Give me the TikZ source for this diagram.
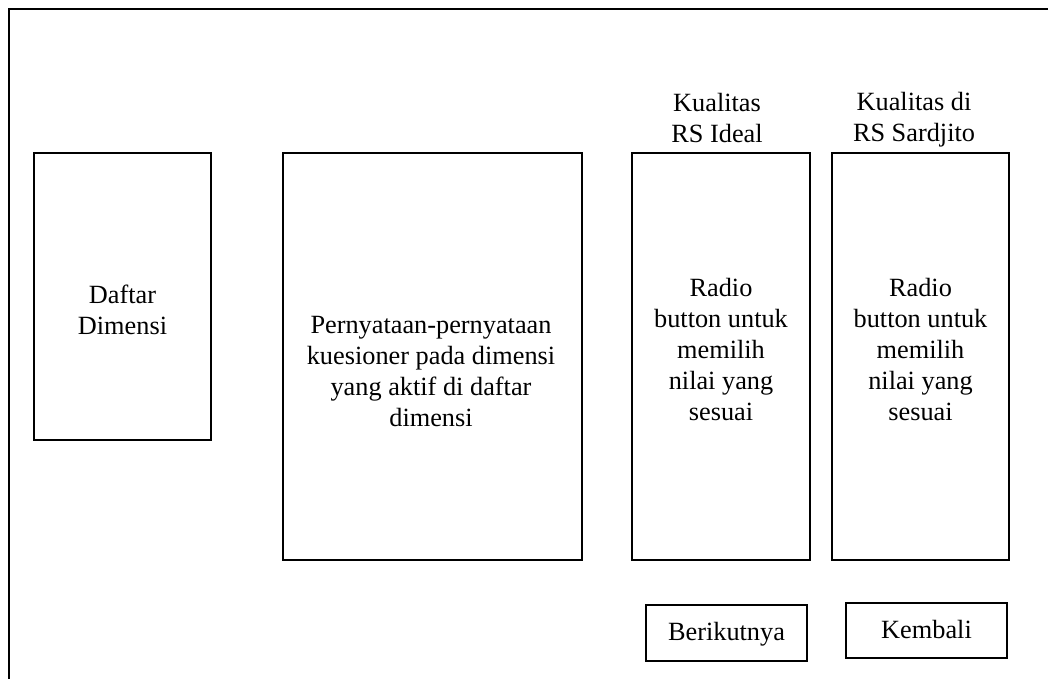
\documentclass[tikz,border=0pt]{standalone}
\usepackage{fontspec}
\setmainfont{Liberation Serif}
\begin{document}
\begin{tikzpicture}[x=1pt,y=-1pt,
  every node/.style={inner sep=0pt,outer sep=0pt},
  panel/.style={draw,line width=1.6pt},
  caption/.style={font=\fontsize{26.3}{31}\selectfont,align=center,anchor=base},
  frame/.style={line width=2.4pt}]
\useasboundingbox (0,0) rectangle (1048,679);

% outer window frame
\draw[frame] (9,679) -- (9,9) -- (1048,9);

% panels
\node[panel,minimum width=177pt,minimum height=287pt] (dim) at (122.5,296.5) {};
\node[panel,minimum width=299pt,minimum height=407pt] (stmt) at (432.5,356.5) {};
\node[panel,minimum width=178pt,minimum height=407pt] (ideal) at (721,356.5) {};
\node[panel,minimum width=177pt,minimum height=407pt] (sard) at (920.5,356.5) {};
\node[panel,minimum width=161pt,minimum height=56pt] (next) at (726.5,633) {};
\node[panel,minimum width=161pt,minimum height=55pt] (back) at (926.5,630.5) {};

% texts (anchored at the baseline of the last line)
\node[caption] (tdim) at (122.5,334) {Daftar\\Dimensi};
\node[caption] (tstmt) at (431,426.7) {Pernyataan-pernyataan\\kuesioner pada dimensi\\yang aktif di daftar\\dimensi};
\node[caption] (tideal) at (721,420) {Radio\\button untuk\\memilih\\nilai yang\\sesuai};
\node[caption] (tsard) at (920.5,420) {Radio\\button untuk\\memilih\\nilai yang\\sesuai};
\node[caption] (hideal) at (717,143) {Kualitas\\RS Ideal};
\node[caption] (hsard) at (914,141.7) {Kualitas di\\RS Sardjito};
\node[caption] (tnext) at (726.5,640) {Berikutnya};
\node[caption] (tback) at (926.5,638.3) {Kembali};
\end{tikzpicture}
\end{document}
